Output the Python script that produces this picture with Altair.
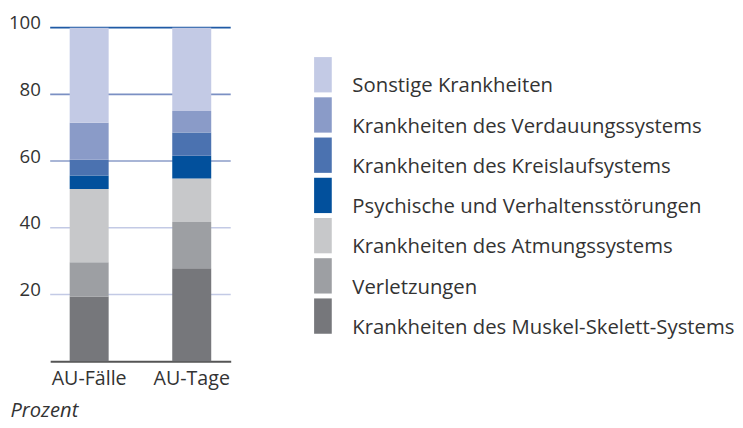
import altair as alt
import pandas as pd

FONT = "Open Sans"

categories = [
    "Krankheiten des Muskel-Skelett-Systems",
    "Verletzungen",
    "Krankheiten des Atmungssystems",
    "Psychische und Verhaltensstörungen",
    "Krankheiten des Kreislaufsystems",
    "Krankheiten des Verdauungssystems",
    "Sonstige Krankheiten",
]
colors = ["#76777b", "#9d9fa3", "#c7c8ca", "#02509c", "#4b72b0", "#8a9bc8", "#c3cae5"]
groups = ["AU-Fälle", "AU-Tage"]
au_faelle = [19.4, 10.3, 21.9, 4.1, 4.7, 11.1, 28.5]
au_tage = [27.9, 13.8, 13.1, 6.8, 7.0, 6.4, 25.0]
grid_values = [20, 40, 60, 80, 100]
grid_colors = ["#c3cae5", "#c3cae5", "#8b9cc8", "#7b90c3", "#1f5aa5"]

rows = []
for g, vals in zip(groups, [au_faelle, au_tage]):
    for i, (c, v) in enumerate(zip(categories, vals)):
        rows.append({"group": g, "category": c, "value": v, "idx": i})
bars_df = pd.DataFrame(rows)
grid_df = pd.DataFrame({"value": grid_values, "gcolor": grid_colors})
legend_df = pd.DataFrame({"category": categories})

color_scale = alt.Scale(domain=categories, range=colors)
y_scale = alt.Scale(domain=[0, 100], nice=False)
y_axis = alt.Axis(
    values=grid_values,
    grid=False,
    domain=False,
    ticks=False,
    title=None,
    labelFontSize=19,
    labelFont=FONT,
    labelColor="#333333",
    labelPadding=10,
    labelBaseline="alphabetic",
    labelOffset=1,
)

grid = alt.Chart(grid_df).mark_rule(strokeWidth=1.6).encode(
    y=alt.Y("value:Q", axis=y_axis, scale=y_scale),
    color=alt.Color("gcolor:N", scale=None),
)

bars = alt.Chart(bars_df).mark_bar().encode(
    x=alt.X(
        "group:N",
        sort=groups,
        scale=alt.Scale(paddingInner=0.62, paddingOuter=0.19),
        axis=alt.Axis(
            title="Prozent",
            labelAngle=0,
            labelFontSize=20,
            labelColor="#333333",
            labelFont=FONT,
            labelPadding=8,
            ticks=False,
            domainColor="#555555",
            domainWidth=2,
            titleFont=FONT,
            titleFontSize=20.5,
            titleFontStyle="italic",
            titleFontWeight="normal",
            titleColor="#333333",
            titleAnchor="start",
            titleAlign="left",
            titleBaseline="alphabetic",
            titleX=-41,
            titleY=56,
        ),
    ),
    y=alt.Y("value:Q", stack="zero", scale=y_scale, axis=y_axis),
    color=alt.Color("category:N", scale=color_scale, legend=None),
    order=alt.Order("idx:Q", sort="ascending"),
)

left = alt.layer(grid, bars).properties(width=184, height=340)

legend_sort = list(reversed(categories))
ly = alt.Y(
    "category:N",
    sort=legend_sort,
    axis=None,
    scale=alt.Scale(paddingInner=5 / 41, paddingOuter=0.366, align=1),
)
leg_rect = alt.Chart(legend_df).mark_rect().encode(
    y=ly,
    x=alt.value(0),
    x2=alt.value(18),
    color=alt.Color("category:N", scale=color_scale, legend=None),
)
leg_text = alt.Chart(legend_df).mark_text(
    align="left", baseline="alphabetic", dy=18, font=FONT, fontSize=20.7, color="#333333"
).encode(
    y=ly,
    x=alt.value(39),
    text="category:N",
)
legend = alt.layer(leg_rect, leg_text).properties(width=400, height=alt.Step(41))

chart = (
    alt.hconcat(left, legend, spacing=85, bounds="flush")
    .properties(padding={"left": 0, "top": 2, "right": 0, "bottom": 0})
    .configure_view(stroke=None)
)

chart.save("out.html", embed_options={"renderer": "svg", "actions": False})
